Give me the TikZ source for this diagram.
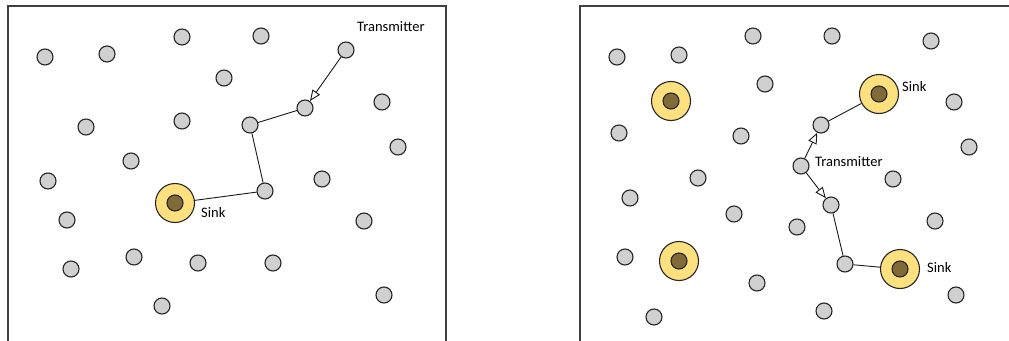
\documentclass[tikz,border=0pt]{standalone}
\usepackage{fontspec}
\setmainfont{Carlito}
\usetikzlibrary{arrows.meta}
\definecolor{nodegray}{HTML}{D0D0D0}
\definecolor{sinkyellow}{HTML}{FFE07F}
\definecolor{sinkcore}{HTML}{7F6A38}
\definecolor{framecol}{HTML}{404040}
\tikzset{
  sensor/.style={circle,draw=black!85,fill=nodegray,line width=1.1pt,minimum size=16pt,inner sep=0pt},
  sinkout/.style={circle,draw=black!85,fill=sinkyellow,line width=1.1pt,minimum size=39pt,inner sep=0pt},
  sinkin/.style={circle,draw=black!85,fill=sinkcore,line width=1.1pt,minimum size=16pt,inner sep=0pt},
  link/.style={draw=black!90,line width=0.9pt},
  msg/.style={link,-{Triangle[open,length=11pt,width=9pt,fill=white]}},
  lbl/.style={font=\fontsize{14.5}{17}\selectfont,inner sep=0pt,anchor=west},
  frame/.style={draw=framecol,line width=1.5pt}
}
\begin{document}
\begin{tikzpicture}[x=1pt,y=-1pt]
\useasboundingbox (0,0) rectangle (1009,340);
% frames
\draw[frame] (8,350) -- (8,6) -- (446,6) -- (446,350);
\draw[frame] (580,350) -- (580,6) -- (1020,6);
% ---------- left panel ----------
\foreach \n/\x/\y in {a1/45/57,a2/107/54,a3/182/37,a4/261/36,a6/224/78,a8/382/102,a9/86/127,a10/182/121,a12/398/147,a13/131/161,a14/48/181,a15/322/179,a17/67/220,a18/364/221,a19/134/257,a20/71/269,a21/198/263,a22/273/263,a23/384/295,a24/162/306}
  \node[sensor] (\n) at (\x,\y) {};
\node[sensor] (ltx) at (346,50) {};
\node[sensor] (lr1) at (305,108) {};
\node[sensor] (lr2) at (250,125) {};
\node[sensor] (lr3) at (265,191) {};
\node[sinkout] (lsink) at (175,203) {};
\node[sinkin] (lsinkc) at (175,203) {};
\node[lbl] (ltxl) at (357,27) {Transmitter};
\node[lbl] (lsinkl) at (201,213) {Sink};
\draw[msg] (ltx) -- (lr1);
\draw[link] (lr1) -- (lr2);
\draw[link] (lr2) -- (lr3);
\draw[link] (lr3) -- (lsink);
% ---------- right panel ----------
\foreach \n/\x/\y in {b1/617/57,b2/679/55,b3/753/36,b4/832/36,b5/931/41,b6/765/84,b7/954/102,b8/619/133,b9/741/136,b10/969/147,b11/698/178,b12/893/179,b13/630/198,b14/734/214,b15/797/227,b16/935/221,b17/625/257,b18/757/283,b19/956/295,b20/824/311,b21/654/317}
  \node[sensor] (\n) at (\x,\y) {};
\node[sinkout] (rs1) at (671,101) {};
\node[sinkin] (rs1c) at (671,101) {};
\node[sinkout] (rs2) at (879,94) {};
\node[sinkin] (rs2c) at (879,94) {};
\node[sinkout] (rs3) at (679,261) {};
\node[sinkin] (rs3c) at (679,261) {};
\node[sinkout] (rs4) at (900,269) {};
\node[sinkin] (rs4c) at (900,269) {};
\node[sensor] (rtx) at (801,166) {};
\node[sensor] (ru1) at (821,125) {};
\node[sensor] (rd1) at (831,205) {};
\node[sensor] (rd2) at (845,264) {};
\node[lbl] (rtxl) at (815,162) {Transmitter};
\node[lbl] (rs2l) at (902,87) {Sink};
\node[lbl] (rs4l) at (927,268) {Sink};
\draw[msg] (rtx) -- (ru1);
\draw[link] (ru1) -- (rs2);
\draw[msg] (rtx) -- (rd1);
\draw[link] (rd1) -- (rd2);
\draw[link] (rd2) -- (rs4);
\end{tikzpicture}
\end{document}
